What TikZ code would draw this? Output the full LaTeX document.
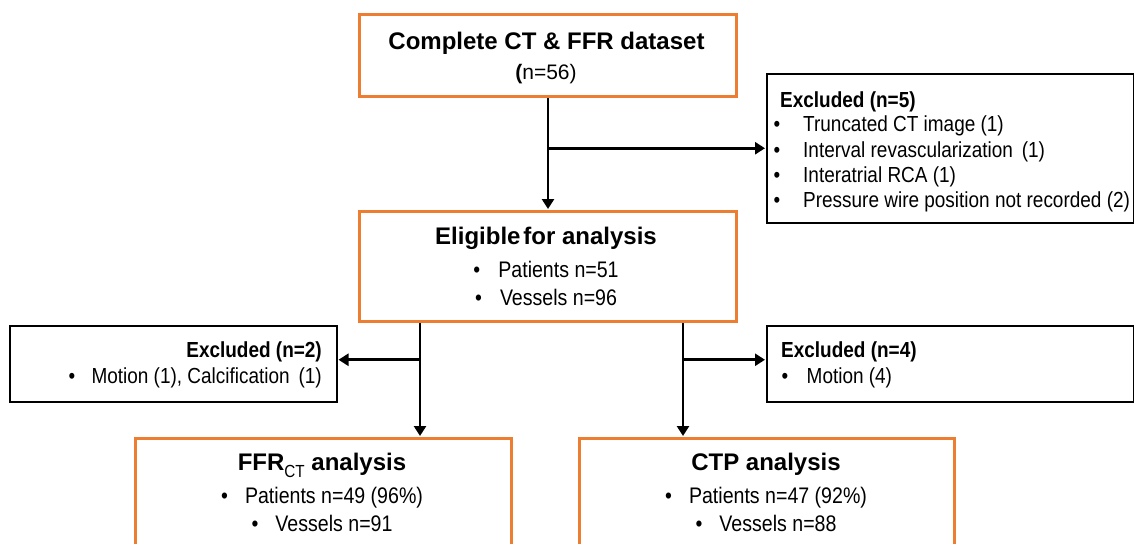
\documentclass[tikz,border=0pt]{standalone}
\usepackage{fontspec}
\setmainfont{Liberation Sans}
\newfontfamily\cond{Liberation Sans}[FakeStretch=0.87]
\usetikzlibrary{arrows.meta}
\definecolor{orng}{HTML}{ED7D31}
\tikzset{
  obox/.style={draw=orng, line width=3pt, fill=white, inner sep=0pt, anchor=north west},
  kbox/.style={draw=black, line width=1.5pt, fill=white, inner sep=0pt, anchor=north west},
  arr/.style={line width=2.8pt, -{Triangle[length=10pt,width=12pt]}, shorten >=1pt},
  ttl/.style={font=\fontsize{24}{28}\selectfont\bfseries, inner sep=0pt, anchor=base},
  txt/.style={font=\cond\fontsize{22.5}{26}\selectfont, inner sep=0pt, anchor=base},
  etxt/.style={font=\cond\fontsize{21.8}{25}\selectfont, inner sep=0pt},
  ehd/.style={font=\cond\fontsize{21.8}{25}\selectfont\bfseries, inner sep=0pt},
}
\newcommand\bl[1]{\makebox[#1][l]{\textbullet}}
\begin{document}
\begin{tikzpicture}[x=1pt,y=-1pt]
\useasboundingbox (0,0) rectangle (1134,543);
\clip (0,0) rectangle (1134,543);
\fill[white] (0,0) rectangle (1134,543);
% boxes
\node[obox, minimum width=377pt, minimum height=82pt] (top) at (358,13) {};
\node[kbox, minimum width=367pt, minimum height=149pt] (ex5) at (766,73) {};
\node[obox, minimum width=377pt, minimum height=110pt] (elig) at (358,210) {};
\node[kbox, minimum width=327pt, minimum height=76pt] (ex2) at (9,325) {};
\node[kbox, minimum width=367pt, minimum height=76pt] (ex4) at (766,325) {};
\node[obox, minimum width=376pt, minimum height=140pt] (ffr) at (134,437) {};
\node[obox, minimum width=375pt, minimum height=140pt] (ctp) at (578,437) {};
% connectors
\draw[arr] (top.south) -- (elig.north);
\coordinate (j1) at (top.south |- ex5.west);
\draw[arr] (j1) -- (ex5.west);
\coordinate (eL) at ([xshift=62pt]elig.south west);
\coordinate (eR) at ([xshift=325pt]elig.south west);
\coordinate (ex2a) at ([yshift=4pt]ex2.east);
\coordinate (ex4a) at ([yshift=4pt]ex4.west);
\draw[arr] (eL) -- (eL |- ffr.north);
\draw[arr] (eL |- ex2a) -- (ex2a);
\draw[arr] (eR) -- (eR |- ctp.north);
\draw[arr] (eR |- ex4a) -- (ex4a);
% top box text
\node[ttl] (t1) at (546.5,49.3) {Complete CT \& FFR dataset};
\node[txt, font=\fontsize{21}{25}\selectfont] (t2) at (546,79) {\textbf{(}n=56)};
% excluded n=5
\node[ehd, anchor=base west] (h5) at (780,107.3) {Excluded (n=5)};
\node[etxt, anchor=base west] (a1) at (773.5,131.7) {\bl{29.5pt}Truncated CT image (1)};
\node[etxt, anchor=base west] (a2) at (773.5,157.3) {\bl{29.5pt}Interval revascularization\ \,(1)};
\node[etxt, anchor=base west] (a3) at (773.5,182.3) {\bl{29.5pt}Interatrial RCA (1)};
\node[etxt, anchor=base west] (a4) at (773.5,207) {\bl{29.5pt}Pressure wire position not recorded (2)};
% eligible
\node[ttl] (t3) at (546,244.3) {Eligible\hspace{0.12em}for analysis};
\node[txt] (b1) at (546,277.3) {\bl{25pt}Patients n=51};
\node[txt] (b2) at (546,305.7) {\bl{25pt}Vessels n=96};
% excluded n=2
\node[ehd, anchor=base east] (h2) at (322,357) {Excluded (n=2)};
\node[etxt, anchor=base east] (c1) at (322,383) {\bl{23pt}Motion (1), Calcification\ \,(1)};
% excluded n=4
\node[ehd, anchor=base west] (h4) at (781,357) {Excluded (n=4)};
\node[etxt, anchor=base west] (d1) at (781.5,383) {\bl{25pt}Motion (4)};
% FFR CT
\node[ttl] (t4) at (322,470) {FFR\raisebox{-7pt}{\cond\fontsize{17.5}{17}\selectfont\mdseries CT} analysis};
\node[txt] (f1) at (322,503) {\bl{24pt}Patients n=49 (96\%)};
\node[txt] (f2) at (322,531.7) {\bl{24pt}Vessels n=91};
% CTP
\node[ttl] (t5) at (766,470) {CTP analysis};
\node[txt] (g1) at (766,503) {\bl{24pt}Patients n=47 (92\%)};
\node[txt] (g2) at (766,531.7) {\bl{24pt}Vessels n=88};
\end{tikzpicture}
\end{document}
